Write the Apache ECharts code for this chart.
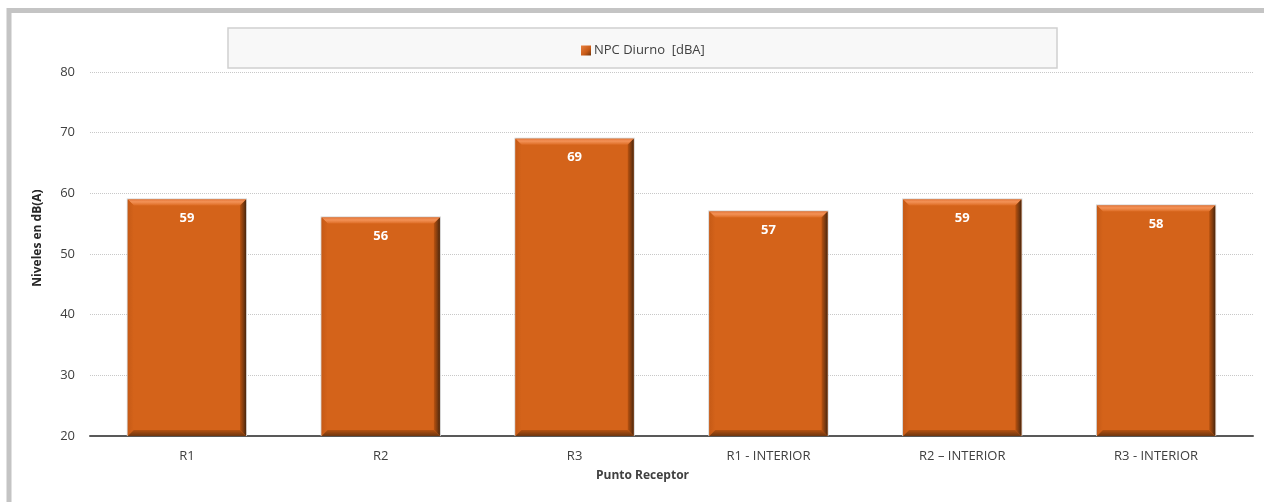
<!DOCTYPE html>
<html>
<head>
<meta charset="utf-8">
<script src="https://cdn.jsdelivr.net/npm/echarts@6/dist/echarts.min.js"></script>
<style>
  html, body { margin: 0; padding: 0; background: #ffffff; }
  #chart { width: 1264px; height: 502px; }
</style>
</head>
<body>
<div id="chart"></div>
<script>
// Noise levels per receptor point
const categories = ['R1', 'R2', 'R3', 'R1 - INTERIOR', 'R2 – INTERIOR', 'R3 - INTERIOR'];
const npcDiurno = [59, 56, 69, 57, 59, 58];
const seriesName = 'NPC Diurno  [dBA]';
const yTicks = { min: 20, max: 80, interval: 10 };

const FONT = '"Open Sans", "Noto Sans", sans-serif';
const ORANGE = '#D4631A';

const chart = echarts.init(document.getElementById('chart'));

// Bevelled bar drawn through the axis scales
function renderBar(params, api) {
  const idx = api.value(0);
  const val = api.value(1);
  const top = api.coord([idx, val]);
  const base = api.coord([idx, yTicks.min]);
  const w = api.size([1, 0])[0] * 0.61;
  const x0 = top[0] - w / 2, x1 = top[0] + w / 2;
  const y0 = top[1], y1 = base[1];
  const b = 6;
  return {
    type: 'group',
    children: [
      { type: 'rect', shape: { x: x0 - 1, y: y0 - 1, width: w + 2, height: y1 - y0 + 1 },
        style: { fill: '#d0d0d0' } },
      { type: 'rect', shape: { x: x0, y: y0, width: w, height: y1 - y0 },
        style: { fill: ORANGE } },
      // top bevel
      { type: 'polygon', shape: { points: [[x0, y0], [x1, y0], [x1 - b, y0 + b], [x0 + b, y0 + b]] },
        style: { fill: new echarts.graphic.LinearGradient(0, 0, 0, 1, [
          { offset: 0, color: '#e5773a' }, { offset: 0.4, color: '#f39257' }, { offset: 1, color: '#dd6c24' }]) } },
      // left bevel
      { type: 'polygon', shape: { points: [[x0, y0], [x0 + b, y0 + b], [x0 + b, y1 - b], [x0, y1]] },
        style: { fill: new echarts.graphic.LinearGradient(0, 0, 1, 0, [
          { offset: 0, color: '#c65a16' }, { offset: 1, color: '#d4631a' }]) } },
      // right bevel
      { type: 'polygon', shape: { points: [[x1, y0], [x1, y1], [x1 - b, y1 - b], [x1 - b, y0 + b]] },
        style: { fill: new echarts.graphic.LinearGradient(0, 0, 1, 0, [
          { offset: 0, color: '#b9520f' }, { offset: 0.6, color: '#7a3a10' }, { offset: 1, color: '#4a260c' }]) } },
      // bottom bevel
      { type: 'polygon', shape: { points: [[x0, y1], [x1, y1], [x1 - b, y1 - b], [x0 + b, y1 - b]] },
        style: { fill: new echarts.graphic.LinearGradient(0, 0, 0, 1, [
          { offset: 0, color: '#b5510f' }, { offset: 1, color: '#6e360f' }]) } },
      { type: 'text',
        style: { text: String(val), x: top[0], y: y0 + 19, align: 'center', verticalAlign: 'middle',
          fill: '#ffffff', font: 'bold 13px ' + FONT } }
    ]
  };
}

chart.setOption({
  animation: false,
  backgroundColor: '#ffffff',
  graphic: [
    // outer chart frame
    { type: 'rect', shape: { x: 9, y: 10.5, width: 1400, height: 700 }, silent: true, z: -10,
      style: { fill: 'none', stroke: '#c4c4c4', lineWidth: 5 } },
    // legend box
    { type: 'rect', shape: { x: 228, y: 28, width: 829, height: 40 }, silent: true, z: -5,
      style: { fill: '#f8f8f8', stroke: '#d0d0d0', lineWidth: 1.5 } }
  ],
  legend: {
    left: 576, top: 39,
    itemWidth: 10, itemHeight: 10, itemGap: 4,
    icon: 'rect',
    textStyle: { fontFamily: FONT, fontSize: 13, color: '#404040', padding: [0, 0, 0, -2] },
    data: [{ name: seriesName, itemStyle: { color: new echarts.graphic.LinearGradient(0, 0, 1, 1, [
      { offset: 0, color: '#e8803f' }, { offset: 0.6, color: '#c85a16' }, { offset: 1, color: '#6e360f' }]) } }]
  },
  grid: { left: 90, right: 11, top: 72, bottom: 66 },
  xAxis: {
    type: 'category',
    data: categories,
    name: 'Punto Receptor',
    nameLocation: 'middle',
    nameGap: 34,
    nameTextStyle: { fontFamily: FONT, fontSize: 12, fontWeight: 'bold', color: '#404040', padding: [0, 58, 0, 0] },
    axisLine: { lineStyle: { color: '#595959', width: 2 } },
    axisTick: { show: false },
    axisLabel: { fontFamily: FONT, fontSize: 13, color: '#404040', margin: 14 }
  },
  yAxis: {
    type: 'value',
    min: yTicks.min, max: yTicks.max, interval: yTicks.interval,
    name: 'Niveles en dB(A)',
    nameLocation: 'middle',
    nameGap: 46,
    nameTextStyle: { fontFamily: FONT, fontSize: 12, fontWeight: 'bold', color: '#262626', padding: [0, 0, 0, 32] },
    axisLine: { show: false },
    axisTick: { show: false },
    axisLabel: { fontFamily: FONT, fontSize: 13, color: '#404040', margin: 15 },
    splitLine: { lineStyle: { color: '#c8c8c8', type: [1, 1], width: 1 } }
  },
  series: [{
    name: seriesName,
    type: 'custom',
    itemStyle: { color: ORANGE },
    encode: { x: 0, y: 1 },
    data: npcDiurno.map((v, i) => [i, v]),
    renderItem: renderBar
  }]
});
</script>
</body>
</html>
